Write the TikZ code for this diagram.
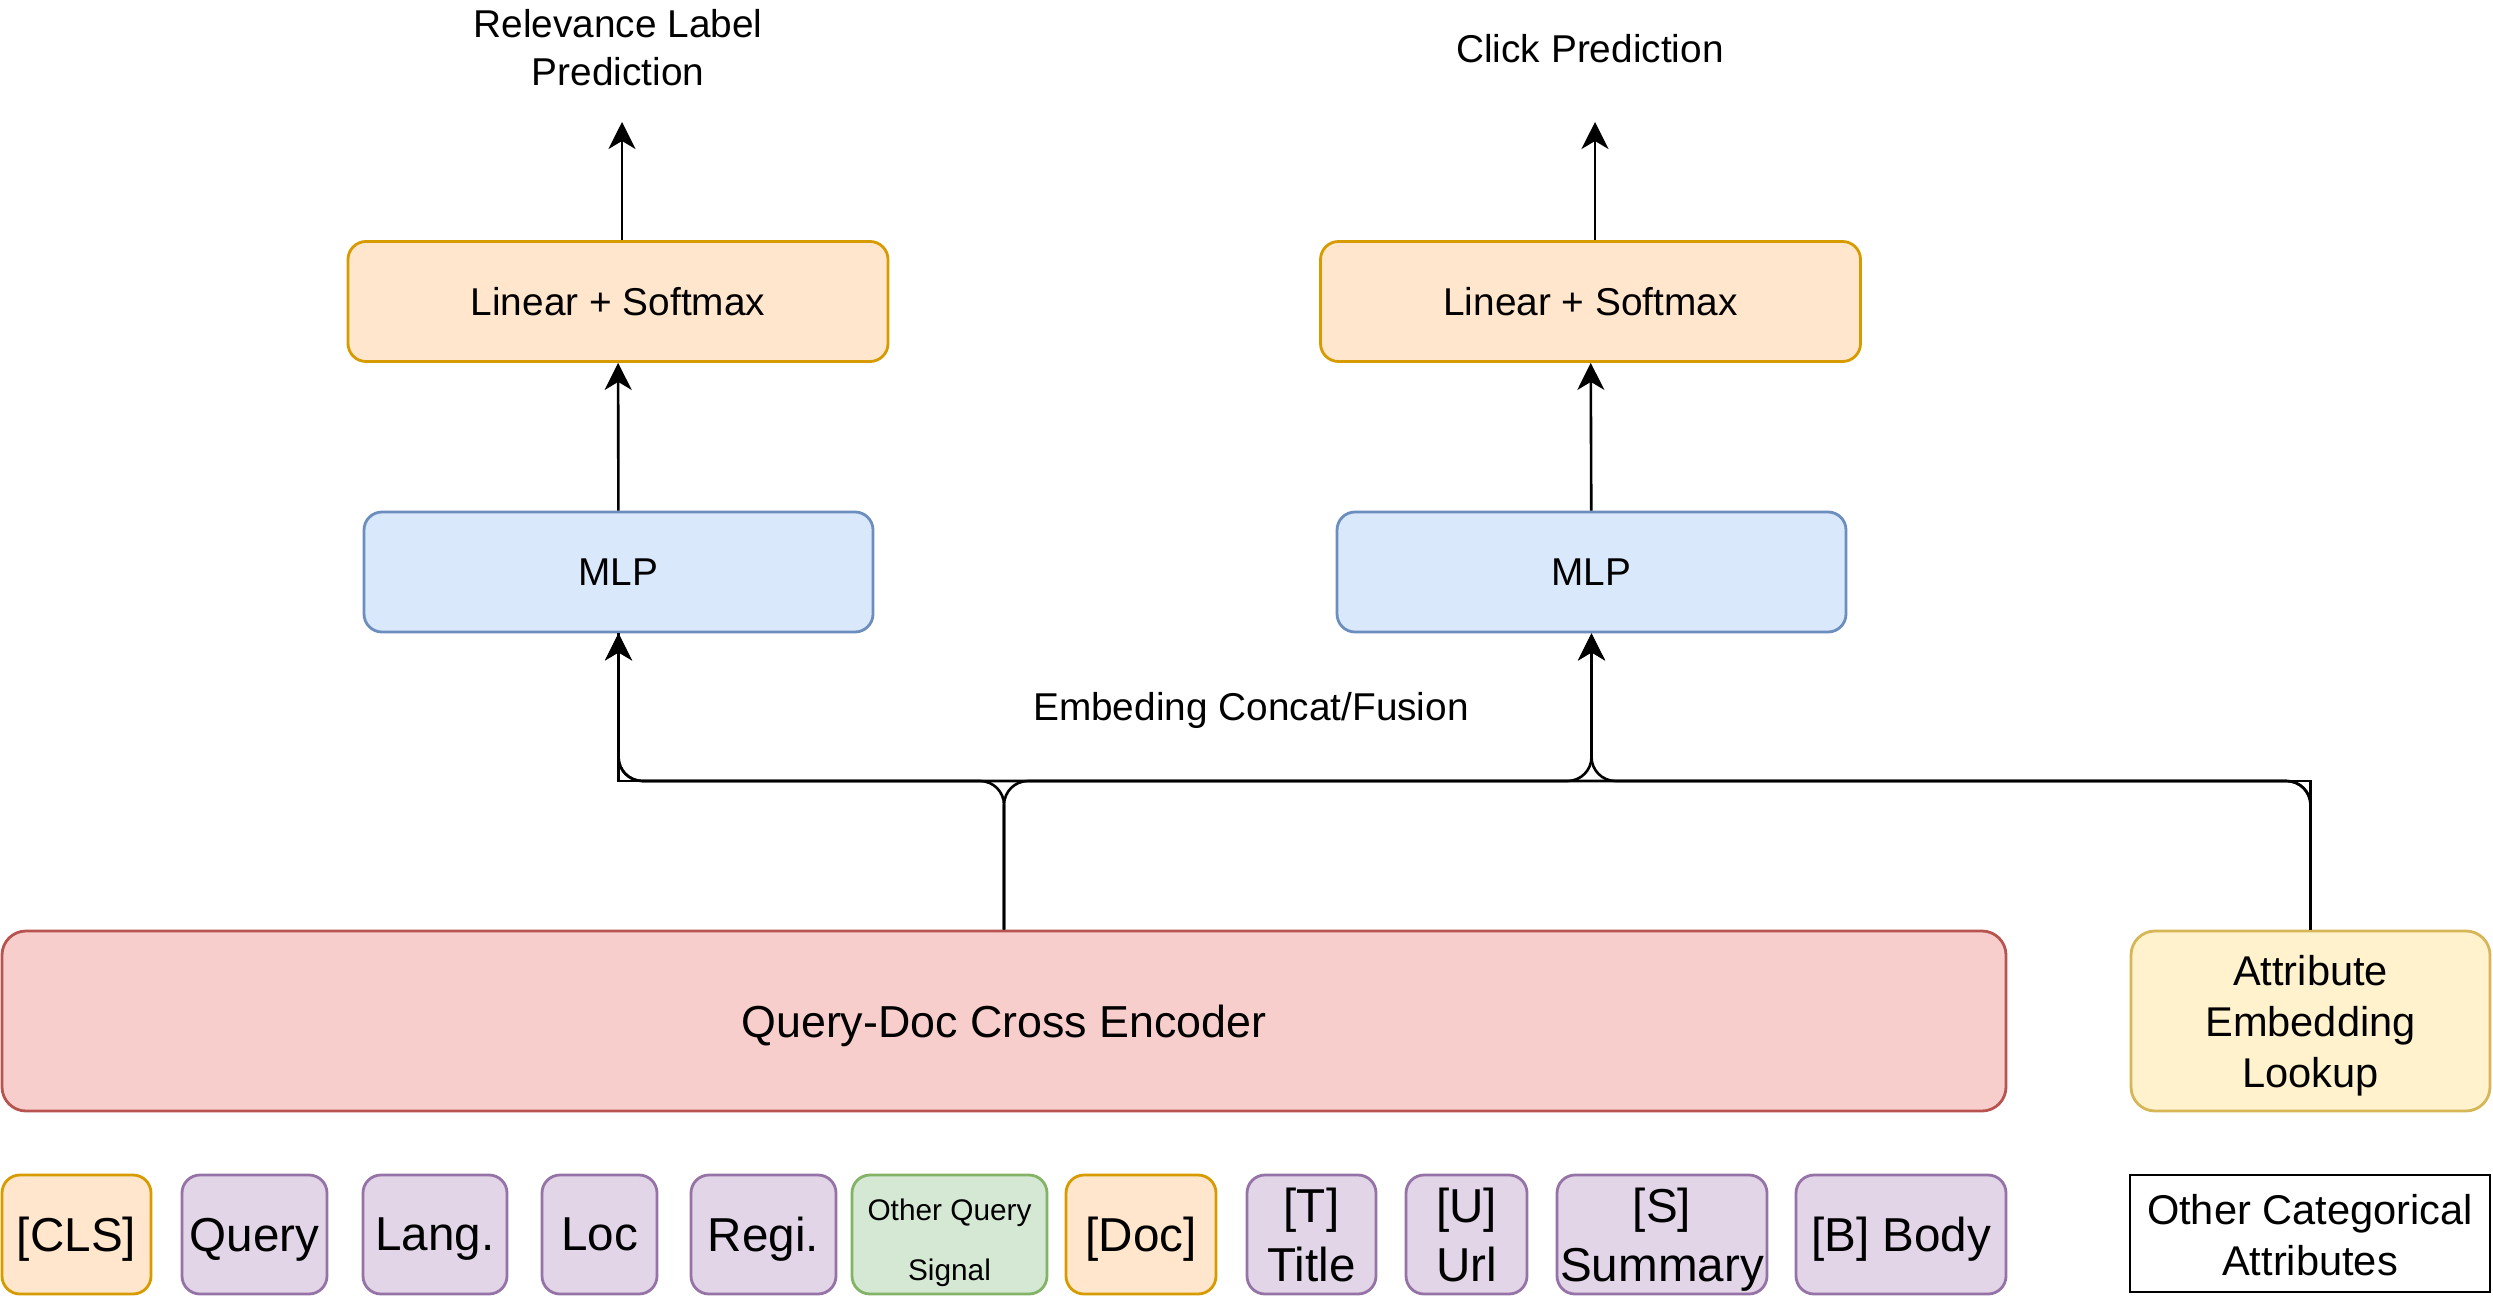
\documentclass[tikz,border=0pt]{standalone}
\usepackage{fontspec}
\setmainfont{Liberation Sans}
\usetikzlibrary{arrows.meta}
\definecolor{orF}{HTML}{FFE6CC}\definecolor{orD}{HTML}{D79B00}
\definecolor{blF}{HTML}{DAE8FC}\definecolor{blD}{HTML}{6C8EBF}
\definecolor{reF}{HTML}{F8CECC}\definecolor{reD}{HTML}{B85450}
\definecolor{yeF}{HTML}{FFF2CC}\definecolor{yeD}{HTML}{D6B656}
\definecolor{puF}{HTML}{E1D5E7}\definecolor{puD}{HTML}{9673A6}
\definecolor{grF}{HTML}{D5E8D4}\definecolor{grD}{HTML}{82B366}
\begin{document}
\begin{tikzpicture}[x=0.5pt,y=-0.5pt,
  box/.style={draw, line width=1.4pt, rounded corners=9pt, inner sep=0pt, align=center, text depth=0pt},
  orangebox/.style={box, fill=orF, draw=orD},
  bluebox/.style={box, fill=blF, draw=blD},
  purplebox/.style={box, fill=puF, draw=puD},
  greenbox/.style={box, fill=grF, draw=grD},
  headbox/.style={minimum width=270pt, minimum height=60pt, font=\fontsize{19.4}{23.9}\selectfont},
  tokbox/.style={minimum height=59.5pt, font=\fontsize{23.8}{29.5}\selectfont},
  lbl/.style={inner sep=0pt, align=center, text depth=0pt, font=\fontsize{19.4}{23.9}\selectfont},
  conn/.style={line width=1.3pt, draw=black},
  arr/.style={conn, -{Stealth[length=13.5pt,width=13.5pt,inset=4pt]}},
  rconn/.style={conn, rounded corners=12pt}
]
\useasboundingbox (0,0) rectangle (2493,1299);

% top labels
\node[lbl] (relp) at (618,47.5) {Relevance Label\\Prediction};
\node[lbl] (clkp) at (1590,48) {Click Prediction};

% heads
\node[orangebox, headbox] (linL) at (618,301.5) {Linear + Softmax};
\node[orangebox, headbox] (linR) at (1590.5,301.5) {Linear + Softmax};
\node[bluebox, headbox, minimum width=254.5pt] (mlpL) at (618.5,572) {MLP};
\node[bluebox, headbox, minimum width=254.5pt] (mlpR) at (1591.5,572) {MLP};

% encoder and attribute
\node[box, fill=reF, draw=reD, rounded corners=12pt, minimum width=1002pt, minimum height=90pt,
      font=\fontsize{22.4}{27}\selectfont] (enc) at (1004,1021) {Query-Doc Cross Encoder};
\node[box, fill=yeF, draw=yeD, rounded corners=12pt, minimum width=179.5pt, minimum height=90pt,
      font=\fontsize{20.8}{25.5}\selectfont] (att) at (2310.5,1021) {Attribute\\Embedding\\Lookup};

% tokens
\node[orangebox, tokbox, minimum width=74.5pt] (cls) at (76.5,1234.5) {[CLS]};
\node[purplebox, tokbox, minimum width=72.5pt] (qry) at (254.5,1234.5) {Query};
\node[purplebox, tokbox, minimum width=72pt] (lang) at (435,1234.5) {Lang.};
\node[purplebox, tokbox, minimum width=57.5pt] (loc) at (599.5,1234.5) {Loc};
\node[purplebox, tokbox, minimum width=72.5pt] (regi) at (763.5,1234.5) {Regi.};
\node[greenbox, tokbox, minimum width=97.5pt, text height=45.8pt, font=\fontsize{14.9}{30}\selectfont] (oqs) at (949.5,1234.5) {Other Query\\Signal};
\node[orangebox, tokbox, minimum width=75pt] (doc) at (1141,1234.5) {[Doc]};
\node[purplebox, tokbox, minimum width=64.5pt] (ttl) at (1311.5,1234.5) {[T]\\Title};
\node[purplebox, tokbox, minimum width=60.5pt] (url) at (1466.5,1234.5) {[U]\\Url};
\node[purplebox, tokbox, minimum width=105pt] (smry) at (1662,1234.5) {[S]\\Summary};
\node[purplebox, tokbox, minimum width=105pt] (body) at (1901,1234.5) {[B] Body};
\node[draw, line width=1.4pt, inner sep=0pt, align=center, minimum width=180pt, minimum height=58.5pt,
      text depth=0pt, text height=42.3pt,
      font=\fontsize{20.8}{25.5}\selectfont] (oca) at (2310,1233.5) {Other Categorical\\Attributes};

% fusion label
\node[lbl] (fus) at (1251,706) {Embeding Concat/Fusion};

% top arrows
\coordinate (tipL) at (622,122);
\coordinate (tipR) at (1595,122);
\draw[arr] (linL.north -| tipL) -- (tipL);
\draw[arr] (linR.north -| tipR) -- (tipR);
\draw[arr] (mlpL) -- (linL);
\draw[arr] (mlpR) -- (linR);

% bus
\coordinate (bus) at (0,781);
\draw[conn] (att.north) -- (att.north |- bus) -- (mlpL.south |- bus) -- (mlpL.south);
\draw[rconn, arr] (enc.north) -- (enc.north |- bus) -- (mlpL.south |- bus) -- (mlpL.south);
\draw[rconn, arr] (enc.north) -- (enc.north |- bus) -- (mlpR.south |- bus) -- (mlpR.south);
\draw[rconn, arr] (att.north) -- (att.north |- bus) -- (mlpR.south |- bus) -- (mlpR.south);
\draw[rconn, arr] (att.north) -- (att.north |- bus) -- (mlpL.south |- bus) -- (mlpL.south);
\end{tikzpicture}
\end{document}
